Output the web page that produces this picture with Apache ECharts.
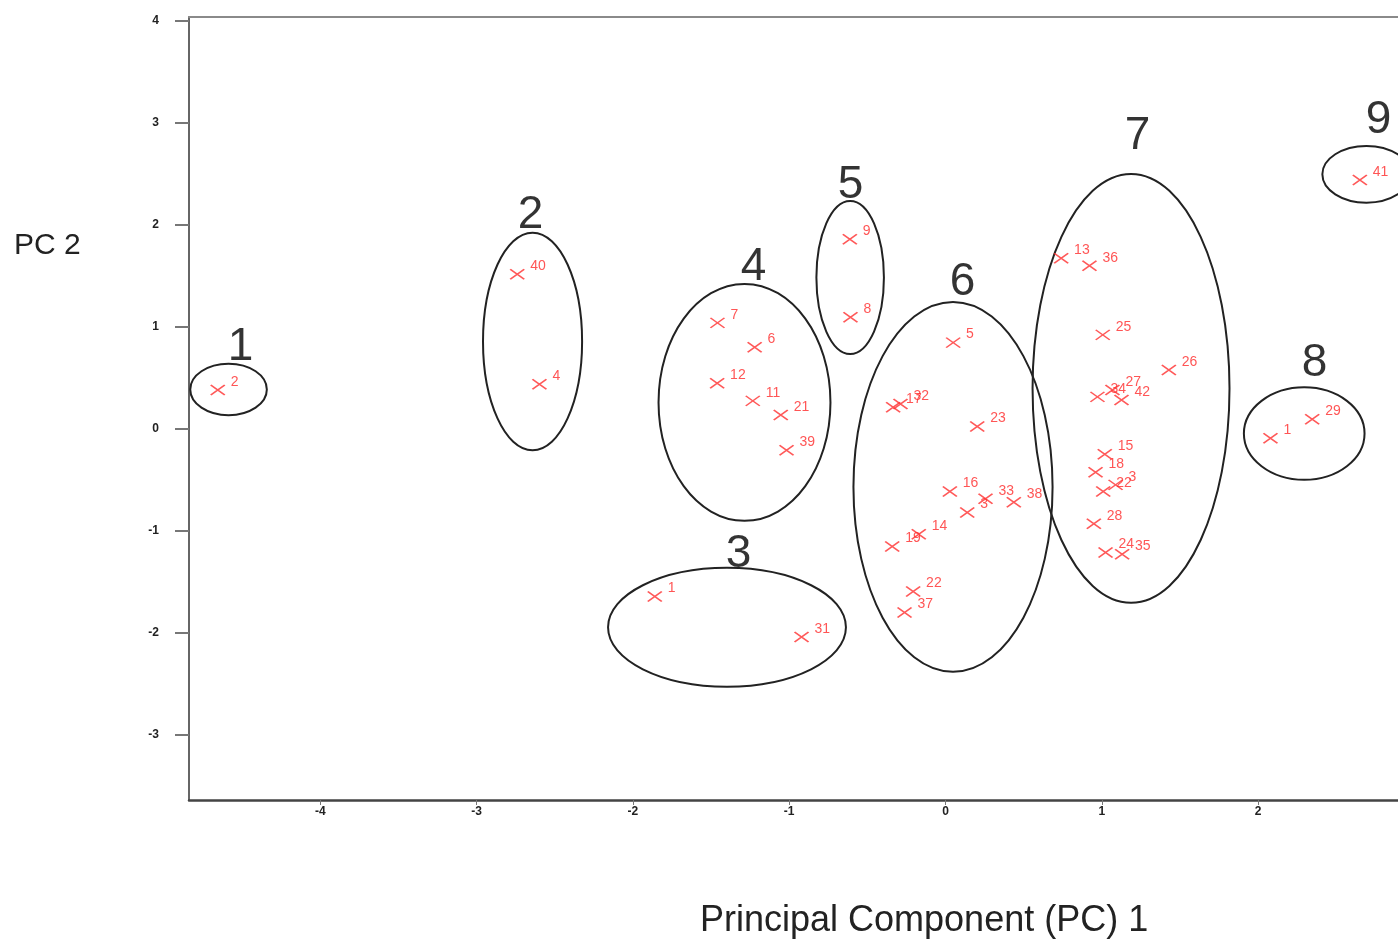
<!DOCTYPE html>
<html>
<head>
<meta charset="utf-8">
<script src="https://cdn.jsdelivr.net/npm/echarts@6/dist/echarts.min.js"></script>
<style>
html,body{margin:0;padding:0;background:#fff;}
#chart{width:1398px;height:942px;}
</style>
</head>
<body>
<div id="chart"></div>
<script>
// ---- data ----
const pointNames = ['2','40','4','7','6','12','11','21','39','9','8','1','31','5','17','32','23','16','33','38','3','14','19','22','37','13','36','25','26','34','27','42','15','18','3','22','28','24','35','1','29','41'];
const pointX = [-4.656,-2.740,-2.598,-1.459,-1.221,-1.461,-1.233,-1.054,-1.017,-0.612,-0.608,-1.860,-0.921,0.049,-0.335,-0.288,0.203,0.028,0.256,0.437,0.139,-0.171,-0.341,-0.207,-0.262,0.740,0.921,1.006,1.429,0.972,1.068,1.126,1.019,0.960,1.088,1.009,0.949,1.024,1.130,2.079,2.346,2.651];
const pointY = [0.382,1.517,0.438,1.040,0.800,0.448,0.275,0.137,-0.209,1.860,1.095,-1.644,-2.042,0.846,0.213,0.245,0.023,-0.615,-0.686,-0.719,-0.820,-1.033,-1.154,-1.595,-1.801,1.673,1.601,0.922,0.578,0.314,0.382,0.284,-0.248,-0.425,-0.549,-0.615,-0.931,-1.213,-1.229,-0.091,0.095,2.441];

const ellipseCx = [-4.587,-2.642,-1.398,-1.286,-0.610,0.048,1.187,2.295,2.693];
const ellipseCy = [0.387,0.858,-1.946,0.260,1.485,-0.569,0.397,-0.046,2.497];
const ellipseRx = [0.245,0.317,0.761,0.550,0.216,0.637,0.630,0.386,0.282];
const ellipseRy = [0.252,1.067,0.583,1.162,0.750,1.814,2.103,0.454,0.278];

const clusterNames = ['1','2','3','4','5','6','7','8','9'];
const clusterX = [-4.510,-2.655,-1.324,-1.228,-0.608,0.109,1.228,2.361,2.770];
const clusterY = [0.804,2.098,-1.235,1.588,2.392,1.441,2.873,0.647,3.029];

const xTicks = [-4,-3,-2,-1,0,1,2];
const yTicks = [-3,-2,-1,0,1,2,3,4];

const FONT = "'Liberation Sans', Arial, sans-serif";

const chart = echarts.init(document.getElementById('chart'), null, {renderer:'canvas'});

const option = {
  animation: false,
  backgroundColor: '#fff',
  grid: {left: 189, top: 17, right: 0, height: 783, show: false, containLabel: false},
  xAxis: [{
    type: 'value', min: -4.84, max: 2.895,
    axisLine: {show: true, onZero: false, lineStyle: {color: '#444', width: 2.5}},
    axisTick: {show: true, length: 5, lineStyle: {color: '#777', width: 1}, customValues: xTicks},
    axisLabel: {color: '#222', fontSize: 12, fontWeight: 'bold', fontFamily: FONT, margin: 6, customValues: xTicks},
    splitLine: {show: false}
  }, {
    type: 'value', min: -4.84, max: 2.895, position: 'top',
    axisLine: {show: true, onZero: false, lineStyle: {color: '#8a8a8a', width: 2}},
    axisTick: {show: false}, axisLabel: {show: false}, splitLine: {show: false}
  }],
  yAxis: {
    type: 'value', min: -3.64, max: 4.04,
    axisLine: {show: true, onZero: false, lineStyle: {color: '#666', width: 2}},
    axisTick: {show: true, length: 14, lineStyle: {color: '#777', width: 2}, customValues: yTicks},
    axisLabel: {color: '#222', fontSize: 12, fontWeight: 'bold', fontFamily: FONT, margin: 30, customValues: yTicks},
    splitLine: {show: false}
  },
  graphic: [
    {type: 'text', left: 14, top: 231, style: {text: 'PC 2', font: "30px " + FONT, fill: '#222'}},
    {type: 'text', left: 700, top: 903, style: {text: 'Principal Component (PC) 1', font: "36px " + FONT, fill: '#222'}}
  ],
  series: [
    {
      type: 'custom',
      clip: false,
      silent: true,
      data: ellipseCx.map((cx, i) => [cx, ellipseCy[i], ellipseRx[i], ellipseRy[i]]),
      renderItem: function (params, api) {
        const c = api.coord([api.value(0), api.value(1)]);
        const s = api.size([api.value(2), api.value(3)]);
        return {
          type: 'ellipse',
          shape: {cx: c[0], cy: c[1], rx: s[0], ry: s[1]},
          style: {fill: 'none', stroke: '#222', lineWidth: 2}
        };
      },
      z: 2
    },
    {
      type: 'scatter',
      symbol: 'path://M0,0L14,10M14,0L0,10',
      symbolSize: [14, 10],
      itemStyle: {color: 'rgba(0,0,0,0)', borderColor: '#ff3030', borderWidth: 1.6},
      label: {
        show: true, position: 'right', distance: 5, offset: [0, -8],
        formatter: p => p.name, color: '#ff2a2a', fontSize: 14, fontFamily: FONT
      },
      data: pointNames.map((n, i) => ({name: n, value: [pointX[i], pointY[i]]})),
      z: 3
    },
    {
      type: 'scatter',
      symbolSize: 0,
      silent: true,
      label: {
        show: true, position: 'inside', formatter: p => p.name,
        color: '#000', fontSize: 46, fontFamily: FONT
      },
      data: clusterNames.map((n, i) => ({name: n, value: [clusterX[i], clusterY[i]]})),
      z: 4
    }
  ]
};
chart.setOption(option);
</script>
</body>
</html>
